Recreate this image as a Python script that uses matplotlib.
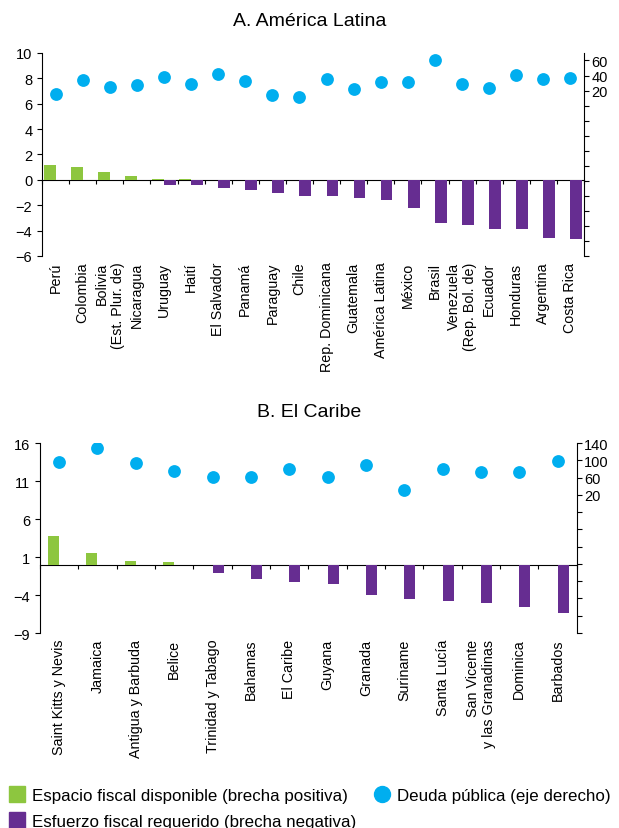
import matplotlib
matplotlib.use('Agg')
import matplotlib.pyplot as plt
import numpy as np
from matplotlib.lines import Line2D
from matplotlib.ticker import FuncFormatter

plt.rcParams['font.family'] = ['Liberation Sans', 'DejaVu Sans']

# Panel A: America Latina
paises_al = ['Perú', 'Colombia', 'Bolivia\n(Est. Plur. de)', 'Nicaragua', 'Uruguay', 'Haití',
             'El Salvador', 'Panamá', 'Paraguay', 'Chile', 'Rep. Dominicana', 'Guatemala',
             'América Latina', 'México', 'Brasil', 'Venezuela\n(Rep. Bol. de)', 'Ecuador',
             'Honduras', 'Argentina', 'Costa Rica']
espacio_al = [1.2, 1.05, 0.65, 0.33, 0.08, 0.08, 0, 0, 0, 0, 0, 0, 0, 0, 0, 0, 0, 0, 0, 0]
esfuerzo_al = [0, 0, 0, 0, -0.42, -0.42, -0.66, -0.82, -1.05, -1.29, -1.3, -1.45, -1.6,
               -2.24, -3.42, -3.58, -3.9, -3.9, -4.6, -4.69]
deuda_al = [15.6, 34.7, 25.3, 27.2, 38.7, 29.3, 41.9, 33.3, 14.7, 12.0, 35.2, 22.7, 31.2,
            31.2, 60.5, 29.3, 24.0, 40.5, 36.0, 36.9]

# Panel B: El Caribe
paises_cb = ['Saint Kitts y Nevis', 'Jamaica', 'Antigua y Barbuda', 'Belice', 'Trinidad y Tabago',
             'Bahamas', 'El Caribe', 'Guyana', 'Granada', 'Suriname', 'Santa Lucía',
             'San Vicente\ny las Granadinas', 'Dominica', 'Barbados']
espacio_cb = [3.72, 1.49, 0.43, 0.3, 0, 0, 0, 0, 0, 0, 0, 0, 0, 0]
esfuerzo_cb = [0, 0, 0, 0, -1.1, -1.93, -2.29, -2.55, -4.0, -4.53, -4.79, -5.05, -5.58, -6.37]
deuda_cb = [95.3, 127.7, 94.4, 75.8, 62.0, 61.3, 79.0, 60.5, 89.8, 30.4, 79.8, 72.0, 72.0, 97.6]

verde = '#8dc63f'
morado = '#662d91'
azul = '#00aeef'


def panel(rect, titulo, nombres, pos, neg, deuda, ylim, yticks, y2lim, y2ticks, width, title_y, fig):
    ax = fig.add_axes(rect)
    x = np.arange(len(nombres))
    ax.bar(x - width / 2, pos, width, color=verde)
    ax.bar(x + width / 2, neg, width, color=morado)
    ax.set_xlim(-0.5, len(nombres) - 0.5)
    ax.set_ylim(*ylim)
    ax.set_yticks(yticks)
    ax.set_xticks(x)
    ax.set_xticklabels(nombres, rotation=90, va='top', ha='center', multialignment='right')
    ax.tick_params(axis='x', length=0, pad=4, labelsize=10.3)
    ax.tick_params(axis='y', direction='out', length=3.5, labelsize=10.5, width=0.8)
    for s in ['top', 'right', 'bottom']:
        ax.spines[s].set_visible(False)
    # zero line with category boundary ticks
    zero_frac = (0 - ylim[0]) / (ylim[1] - ylim[0])
    sec = ax.secondary_xaxis(zero_frac)
    sec.set_xticks(np.arange(-0.5, len(nombres), 1.0))
    sec.tick_params(direction='out', length=3, labelbottom=False, labeltop=False, width=0.8)
    ax2 = ax.twinx()
    ax2.scatter(x, deuda, s=85, color=azul, zorder=3, linewidths=0)
    ax2.set_ylim(*y2lim)
    ax2.set_yticks(y2ticks)
    ax2.yaxis.set_major_formatter(FuncFormatter(lambda v, p: f'{v:.0f}' if v > 0 else ''))
    ax2.tick_params(axis='y', direction='out', length=3.5, labelsize=10.5, pad=2, width=0.8)
    for s in ['top', 'left', 'bottom']:
        ax2.spines[s].set_visible(False)
    fig.text(0.5, title_y, titulo, ha='center', va='center', fontsize=14)
    return ax


fig = plt.figure(figsize=(6.19, 8.29), dpi=100)

panel([0.0679, 0.69, 0.8756, 0.2449], 'A. América Latina', paises_al, espacio_al, esfuerzo_al,
      deuda_al, (-6, 10), np.arange(-6, 11, 2), (-200, 70), np.arange(-200, 61, 20), 0.43,
      0.9735, fig)
panel([0.0646, 0.2352, 0.8671, 0.2292], 'B. El Caribe', paises_cb, espacio_cb, esfuerzo_cb,
      deuda_cb, (-9, 16), np.arange(-9, 17, 5), (-300, 140), np.arange(-300, 141, 40), 0.29,
      0.502, fig)

handles = [Line2D([], [], marker='s', linestyle='none', markersize=11.5, color=verde),
           Line2D([], [], marker='s', linestyle='none', markersize=11.5, color=morado),
           Line2D([], [], marker='o', linestyle='none', markersize=11.5, color=azul)]
labels = ['Espacio fiscal disponible (brecha positiva)',
          'Esfuerzo fiscal requerido (brecha negativa)',
          'Deuda pública (eje derecho)']
fig.legend(handles, labels, loc='upper left', bbox_to_anchor=(0.0137, 0.048), ncol=2,
           frameon=False, fontsize=12.2, handlelength=1.0, handletextpad=0.4,
           columnspacing=1.0, labelspacing=0.65, borderaxespad=0, borderpad=0)

fig.savefig('out.png', dpi=100)
